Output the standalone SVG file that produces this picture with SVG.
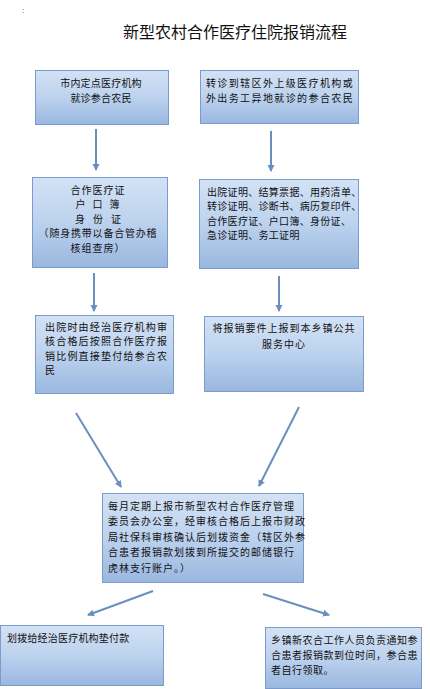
<svg xmlns="http://www.w3.org/2000/svg" width="430" height="689" viewBox="0 0 430 689">
<defs>
<linearGradient id="g" x1="0" y1="0" x2="0" y2="1">
<stop offset="0" stop-color="#d3e2f5"/>
<stop offset="0.5" stop-color="#bcd2ee"/>
<stop offset="1" stop-color="#9ab7df"/>
</linearGradient>
<marker id="ah" markerWidth="8" markerHeight="8" refX="6" refY="4" orient="auto" markerUnits="userSpaceOnUse">
<path d="M0,0.5 L7,4 L0,7.5 Z" fill="#6a8fbf"/>
</marker>
<style>
.box{fill:url(#g);stroke:#7b9ccb;stroke-width:1}
.t{font-family:"Noto Sans CJK SC","Noto Sans",sans-serif;font-size:10px;fill:#111;letter-spacing:1px}
.c{text-anchor:middle}
.ln{stroke:#6a8fbf;stroke-width:2;fill:none;marker-end:url(#ah)}
.title{font-family:"Noto Sans CJK SC","Noto Sans",sans-serif;font-size:16px;fill:#111;text-anchor:middle}
</style>
</defs>
<rect width="430" height="689" fill="#fff"/>
<text x="22" y="13" style="font-family:'Liberation Sans',sans-serif;font-size:8px;fill:#333">:</text>
<text class="title" x="235" y="38">新型农村合作医疗住院报销流程</text>

<g id="connectors">
<line class="ln" x1="96" y1="129" x2="96" y2="170"/>
<line class="ln" x1="271" y1="131" x2="271" y2="171"/>
<line class="ln" x1="94" y1="273" x2="94" y2="311"/>
<line class="ln" x1="279" y1="276" x2="279" y2="311"/>
<line class="ln" x1="76" y1="413" x2="121" y2="487"/>
<line class="ln" x1="299" y1="407" x2="259" y2="486"/>
<line class="ln" x1="153" y1="591" x2="88" y2="615"/>
<line class="ln" x1="263" y1="594" x2="329" y2="615"/>
</g>

<g id="n1">
<rect class="box" x="35.5" y="70.5" width="133" height="54"/>
<text class="t c" x="101" y="86.5" style="letter-spacing:0.2px">市内定点医疗机构</text>
<text class="t c" x="101" y="101.5" style="letter-spacing:0.2px">就诊参合农民</text>
</g>

<g id="n2">
<rect class="box" x="200.5" y="70.5" width="158" height="53"/>
<text class="t c" x="280" y="87" style="letter-spacing:1.4px">转诊到辖区外上级医疗机构或</text>
<text class="t c" x="280" y="101.5" style="letter-spacing:1.4px">外出务工异地就诊的参合农民</text>
</g>

<g id="n3">
<rect class="box" x="32.5" y="177.5" width="135" height="90"/>
<text class="t c" x="98" y="193.8">合作医疗证</text>
<text class="t c" x="101" y="208.3" style="letter-spacing:7px">户口簿</text>
<text class="t c" x="102" y="222.8" style="letter-spacing:8px">身份证</text>
<text class="t c" x="98" y="237.3" style="letter-spacing:0.8px">（随身携带以备合管办稽</text>
<text class="t c" x="98" y="251.8">核组查房）</text>
</g>

<g id="n4">
<rect class="box" x="199.5" y="179.5" width="159" height="89"/>
<text class="t" x="207" y="195.5" style="letter-spacing:0.3px">出院证明、结算票据、用药清单、</text>
<text class="t" x="207" y="210" style="letter-spacing:0.3px">转诊证明、诊断书、病历复印件、</text>
<text class="t" x="207" y="224.5" style="letter-spacing:0.3px">合作医疗证、户口簿、身份证、</text>
<text class="t" x="207" y="239" style="letter-spacing:0.3px">急诊证明、务工证明</text>
</g>

<g id="n5">
<rect class="box" x="35.5" y="315.5" width="138" height="78"/>
<text class="t" x="45" y="330.5" style="letter-spacing:1.2px">出院时由经治医疗机构审</text>
<text class="t" x="45" y="345" style="letter-spacing:1.2px">核合格后按照合作医疗报</text>
<text class="t" x="45" y="359.5" style="letter-spacing:1.2px">销比例直接垫付给参合农</text>
<text class="t" x="45" y="374" style="letter-spacing:1.2px">民</text>
</g>

<g id="n6">
<rect class="box" x="204.5" y="316.5" width="159" height="75"/>
<text class="t c" x="284" y="331.5">将报销要件上报到本乡镇公共</text>
<text class="t c" x="284" y="347.5">服务中心</text>
</g>

<g id="n7">
<rect class="box" x="102.5" y="493.5" width="201" height="89"/>
<text class="t" x="108" y="509.5">每月定期上报市新型农村合作医疗管理</text>
<text class="t" x="108" y="525">委员会办公室，经审核合格后上报市财政</text>
<text class="t" x="108" y="540.5">局社保科审核确认后划拨资金（辖区外参</text>
<text class="t" x="108" y="556">合患者报销款划拨到所提交的邮储银行</text>
<text class="t" x="108" y="572">虎林支行账户。）</text>
</g>

<g id="n8">
<rect class="box" x="0.5" y="625.5" width="163" height="60"/>
<text class="t" x="7" y="641.5" style="letter-spacing:0.2px">划拨给经治医疗机构垫付款</text>
</g>

<g id="n9">
<rect class="box" x="265.5" y="627.5" width="156" height="61"/>
<text class="t" x="271" y="643.5" style="letter-spacing:0.5px">乡镇新农合工作人员负责通知参</text>
<text class="t" x="271" y="658.5" style="letter-spacing:0.5px">合患者报销款到位时间，参合患</text>
<text class="t" x="271" y="673.5" style="letter-spacing:0.5px">者自行领取。</text>
</g>
</svg>
